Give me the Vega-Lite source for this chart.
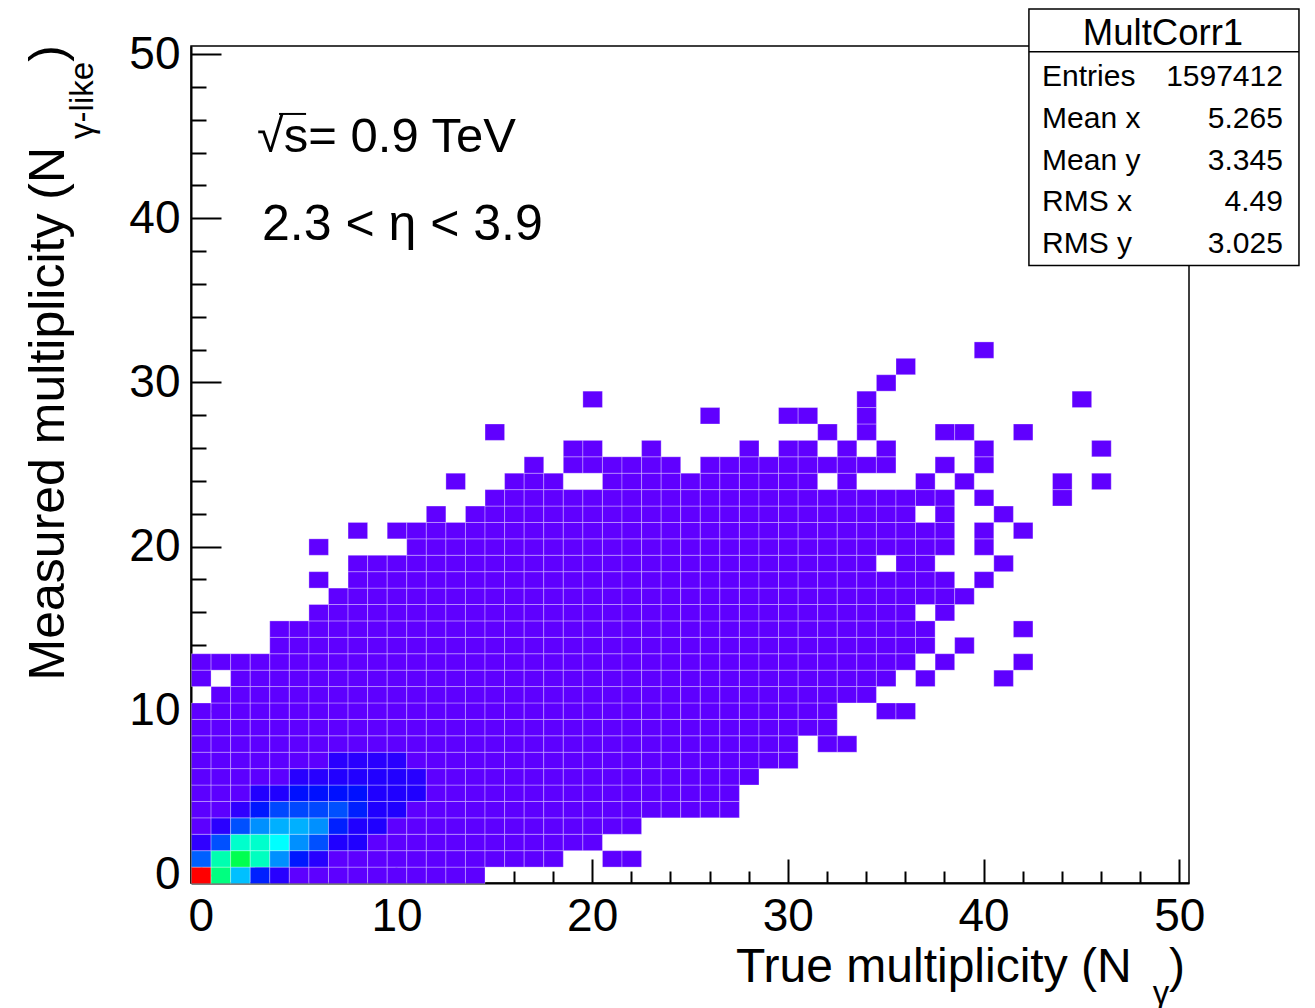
{
  "$schema": "https://vega.github.io/schema/vega-lite/v6.json",
  "width": 998,
  "height": 837,
  "autosize": {"type": "none"},
  "padding": {"left": 191, "top": 46, "right": 126, "bottom": 125},
  "background": "white",
  "config": {
    "font": "Liberation Sans",
    "view": {"stroke": "black", "strokeWidth": 1.5},
    "axis": {"grid": false, "domainColor": "black", "domainWidth": 2, "tickColor": "black", "tickWidth": 2, "labelFont": "Liberation Sans", "labelFontSize": 46, "labelColor": "black", "zindex": 1},
    "text": {"font": "Liberation Sans", "color": "black"}
  },
  "resolve": {"axis": {"x": "independent", "y": "independent"}},
  "layer": [
    {
      "data": {"values": [
{"x":0,"y":0,"n":100000},{"x":1,"y":0,"n":49960},{"x":2,"y":0,"n":35060},{"x":3,"y":0,"n":22510},{"x":4,"y":0,"n":11667},{"x":5,"y":0,"n":700},{"x":6,"y":0,"n":700},{"x":7,"y":0,"n":700},{"x":8,"y":0,"n":700},{"x":9,"y":0,"n":700},{"x":10,"y":0,"n":700},{"x":11,"y":0,"n":700},{"x":12,"y":0,"n":700},{"x":13,"y":0,"n":700},{"x":14,"y":0,"n":700},
{"x":0,"y":1,"n":27530},{"x":1,"y":1,"n":46200},{"x":2,"y":1,"n":53725},{"x":3,"y":1,"n":45000},{"x":4,"y":1,"n":31290},{"x":5,"y":1,"n":21880},{"x":6,"y":1,"n":11667},{"x":7,"y":1,"n":700},{"x":8,"y":1,"n":700},{"x":9,"y":1,"n":700},{"x":10,"y":1,"n":700},{"x":11,"y":1,"n":700},{"x":12,"y":1,"n":700},{"x":13,"y":1,"n":700},{"x":14,"y":1,"n":700},{"x":15,"y":1,"n":700},{"x":16,"y":1,"n":700},{"x":17,"y":1,"n":700},{"x":18,"y":1,"n":700},{"x":21,"y":1,"n":700},{"x":22,"y":1,"n":700},
{"x":0,"y":2,"n":10000},{"x":1,"y":2,"n":26270},{"x":2,"y":2,"n":44000},{"x":3,"y":2,"n":44000},{"x":4,"y":2,"n":40000},{"x":5,"y":2,"n":31290},{"x":6,"y":2,"n":26270},{"x":7,"y":2,"n":13333},{"x":8,"y":2,"n":13333},{"x":9,"y":2,"n":700},{"x":10,"y":2,"n":700},{"x":11,"y":2,"n":700},{"x":12,"y":2,"n":700},{"x":13,"y":2,"n":700},{"x":14,"y":2,"n":700},{"x":15,"y":2,"n":700},{"x":16,"y":2,"n":700},{"x":17,"y":2,"n":700},{"x":18,"y":2,"n":700},{"x":19,"y":2,"n":700},{"x":20,"y":2,"n":700},
{"x":0,"y":3,"n":800},{"x":1,"y":3,"n":11250},{"x":2,"y":3,"n":26270},{"x":3,"y":3,"n":31290},{"x":4,"y":3,"n":33800},{"x":5,"y":3,"n":33800},{"x":6,"y":3,"n":31290},{"x":7,"y":3,"n":22510},{"x":8,"y":3,"n":13333},{"x":9,"y":3,"n":13333},{"x":10,"y":3,"n":700},{"x":11,"y":3,"n":700},{"x":12,"y":3,"n":700},{"x":13,"y":3,"n":700},{"x":14,"y":3,"n":700},{"x":15,"y":3,"n":700},{"x":16,"y":3,"n":700},{"x":17,"y":3,"n":700},{"x":18,"y":3,"n":700},{"x":19,"y":3,"n":700},{"x":20,"y":3,"n":700},{"x":21,"y":3,"n":700},{"x":22,"y":3,"n":700},
{"x":0,"y":4,"n":800},{"x":1,"y":4,"n":800},{"x":2,"y":4,"n":10000},{"x":3,"y":4,"n":21880},{"x":4,"y":4,"n":25650},{"x":5,"y":4,"n":25650},{"x":6,"y":4,"n":25650},{"x":7,"y":4,"n":26270},{"x":8,"y":4,"n":22510},{"x":9,"y":4,"n":13333},{"x":10,"y":4,"n":13333},{"x":11,"y":4,"n":700},{"x":12,"y":4,"n":700},{"x":13,"y":4,"n":700},{"x":14,"y":4,"n":700},{"x":15,"y":4,"n":700},{"x":16,"y":4,"n":700},{"x":17,"y":4,"n":700},{"x":18,"y":4,"n":700},{"x":19,"y":4,"n":700},{"x":20,"y":4,"n":700},{"x":21,"y":4,"n":700},{"x":22,"y":4,"n":700},{"x":23,"y":4,"n":700},{"x":24,"y":4,"n":700},{"x":25,"y":4,"n":700},{"x":26,"y":4,"n":700},{"x":27,"y":4,"n":700},
{"x":0,"y":5,"n":800},{"x":1,"y":5,"n":800},{"x":2,"y":5,"n":800},{"x":3,"y":5,"n":12917},{"x":4,"y":5,"n":13333},{"x":5,"y":5,"n":21255},{"x":6,"y":5,"n":21255},{"x":7,"y":5,"n":21255},{"x":8,"y":5,"n":21255},{"x":9,"y":5,"n":13333},{"x":10,"y":5,"n":13333},{"x":11,"y":5,"n":13333},{"x":12,"y":5,"n":700},{"x":13,"y":5,"n":700},{"x":14,"y":5,"n":700},{"x":15,"y":5,"n":700},{"x":16,"y":5,"n":700},{"x":17,"y":5,"n":700},{"x":18,"y":5,"n":700},{"x":19,"y":5,"n":700},{"x":20,"y":5,"n":700},{"x":21,"y":5,"n":700},{"x":22,"y":5,"n":700},{"x":23,"y":5,"n":700},{"x":24,"y":5,"n":700},{"x":25,"y":5,"n":700},{"x":26,"y":5,"n":700},{"x":27,"y":5,"n":700},
{"x":0,"y":6,"n":800},{"x":1,"y":6,"n":800},{"x":2,"y":6,"n":800},{"x":3,"y":6,"n":800},{"x":4,"y":6,"n":800},{"x":5,"y":6,"n":11667},{"x":6,"y":6,"n":11667},{"x":7,"y":6,"n":12917},{"x":8,"y":6,"n":12917},{"x":9,"y":6,"n":12917},{"x":10,"y":6,"n":12917},{"x":11,"y":6,"n":11667},{"x":12,"y":6,"n":700},{"x":13,"y":6,"n":700},{"x":14,"y":6,"n":700},{"x":15,"y":6,"n":700},{"x":16,"y":6,"n":700},{"x":17,"y":6,"n":700},{"x":18,"y":6,"n":700},{"x":19,"y":6,"n":700},{"x":20,"y":6,"n":700},{"x":21,"y":6,"n":700},{"x":22,"y":6,"n":700},{"x":23,"y":6,"n":700},{"x":24,"y":6,"n":700},{"x":25,"y":6,"n":700},{"x":26,"y":6,"n":700},{"x":27,"y":6,"n":700},{"x":28,"y":6,"n":700},
{"x":0,"y":7,"n":800},{"x":1,"y":7,"n":800},{"x":2,"y":7,"n":800},{"x":3,"y":7,"n":800},{"x":4,"y":7,"n":800},{"x":5,"y":7,"n":800},{"x":6,"y":7,"n":800},{"x":7,"y":7,"n":11250},{"x":8,"y":7,"n":11250},{"x":9,"y":7,"n":11250},{"x":10,"y":7,"n":11250},{"x":11,"y":7,"n":600},{"x":12,"y":7,"n":600},{"x":13,"y":7,"n":600},{"x":14,"y":7,"n":600},{"x":15,"y":7,"n":600},{"x":16,"y":7,"n":600},{"x":17,"y":7,"n":600},{"x":18,"y":7,"n":600},{"x":19,"y":7,"n":600},{"x":20,"y":7,"n":600},{"x":21,"y":7,"n":600},{"x":22,"y":7,"n":600},{"x":23,"y":7,"n":600},{"x":24,"y":7,"n":600},{"x":25,"y":7,"n":600},{"x":26,"y":7,"n":600},{"x":27,"y":7,"n":600},{"x":28,"y":7,"n":600},{"x":29,"y":7,"n":600},{"x":30,"y":7,"n":600},
{"x":0,"y":8,"n":600},{"x":1,"y":8,"n":600},{"x":2,"y":8,"n":600},{"x":3,"y":8,"n":600},{"x":4,"y":8,"n":600},{"x":5,"y":8,"n":600},{"x":6,"y":8,"n":600},{"x":7,"y":8,"n":600},{"x":8,"y":8,"n":600},{"x":9,"y":8,"n":600},{"x":10,"y":8,"n":600},{"x":11,"y":8,"n":600},{"x":12,"y":8,"n":600},{"x":13,"y":8,"n":600},{"x":14,"y":8,"n":600},{"x":15,"y":8,"n":600},{"x":16,"y":8,"n":600},{"x":17,"y":8,"n":600},{"x":18,"y":8,"n":600},{"x":19,"y":8,"n":600},{"x":20,"y":8,"n":600},{"x":21,"y":8,"n":600},{"x":22,"y":8,"n":600},{"x":23,"y":8,"n":600},{"x":24,"y":8,"n":600},{"x":25,"y":8,"n":600},{"x":26,"y":8,"n":600},{"x":27,"y":8,"n":600},{"x":28,"y":8,"n":600},{"x":29,"y":8,"n":600},{"x":30,"y":8,"n":600},{"x":32,"y":8,"n":600},{"x":33,"y":8,"n":600},
{"x":0,"y":9,"n":500},{"x":1,"y":9,"n":500},{"x":2,"y":9,"n":500},{"x":3,"y":9,"n":500},{"x":4,"y":9,"n":500},{"x":5,"y":9,"n":500},{"x":6,"y":9,"n":500},{"x":7,"y":9,"n":500},{"x":8,"y":9,"n":500},{"x":9,"y":9,"n":500},{"x":10,"y":9,"n":500},{"x":11,"y":9,"n":500},{"x":12,"y":9,"n":500},{"x":13,"y":9,"n":500},{"x":14,"y":9,"n":500},{"x":15,"y":9,"n":500},{"x":16,"y":9,"n":500},{"x":17,"y":9,"n":500},{"x":18,"y":9,"n":500},{"x":19,"y":9,"n":500},{"x":20,"y":9,"n":500},{"x":21,"y":9,"n":500},{"x":22,"y":9,"n":500},{"x":23,"y":9,"n":500},{"x":24,"y":9,"n":500},{"x":25,"y":9,"n":500},{"x":26,"y":9,"n":500},{"x":27,"y":9,"n":500},{"x":28,"y":9,"n":500},{"x":29,"y":9,"n":500},{"x":30,"y":9,"n":500},{"x":31,"y":9,"n":500},{"x":32,"y":9,"n":500},
{"x":0,"y":10,"n":450},{"x":1,"y":10,"n":450},{"x":2,"y":10,"n":450},{"x":3,"y":10,"n":450},{"x":4,"y":10,"n":450},{"x":5,"y":10,"n":450},{"x":6,"y":10,"n":450},{"x":7,"y":10,"n":450},{"x":8,"y":10,"n":450},{"x":9,"y":10,"n":450},{"x":10,"y":10,"n":450},{"x":11,"y":10,"n":450},{"x":12,"y":10,"n":450},{"x":13,"y":10,"n":450},{"x":14,"y":10,"n":450},{"x":15,"y":10,"n":450},{"x":16,"y":10,"n":450},{"x":17,"y":10,"n":450},{"x":18,"y":10,"n":450},{"x":19,"y":10,"n":450},{"x":20,"y":10,"n":450},{"x":21,"y":10,"n":450},{"x":22,"y":10,"n":450},{"x":23,"y":10,"n":450},{"x":24,"y":10,"n":450},{"x":25,"y":10,"n":450},{"x":26,"y":10,"n":450},{"x":27,"y":10,"n":450},{"x":28,"y":10,"n":450},{"x":29,"y":10,"n":450},{"x":30,"y":10,"n":450},{"x":31,"y":10,"n":450},{"x":32,"y":10,"n":450},{"x":35,"y":10,"n":450},{"x":36,"y":10,"n":450},
{"x":1,"y":11,"n":400},{"x":2,"y":11,"n":400},{"x":3,"y":11,"n":400},{"x":4,"y":11,"n":400},{"x":5,"y":11,"n":400},{"x":6,"y":11,"n":400},{"x":7,"y":11,"n":400},{"x":8,"y":11,"n":400},{"x":9,"y":11,"n":400},{"x":10,"y":11,"n":400},{"x":11,"y":11,"n":400},{"x":12,"y":11,"n":400},{"x":13,"y":11,"n":400},{"x":14,"y":11,"n":400},{"x":15,"y":11,"n":400},{"x":16,"y":11,"n":400},{"x":17,"y":11,"n":400},{"x":18,"y":11,"n":400},{"x":19,"y":11,"n":400},{"x":20,"y":11,"n":400},{"x":21,"y":11,"n":400},{"x":22,"y":11,"n":400},{"x":23,"y":11,"n":400},{"x":24,"y":11,"n":400},{"x":25,"y":11,"n":400},{"x":26,"y":11,"n":400},{"x":27,"y":11,"n":400},{"x":28,"y":11,"n":400},{"x":29,"y":11,"n":400},{"x":30,"y":11,"n":400},{"x":31,"y":11,"n":400},{"x":32,"y":11,"n":400},{"x":33,"y":11,"n":400},{"x":34,"y":11,"n":400},
{"x":0,"y":12,"n":350},{"x":2,"y":12,"n":350},{"x":3,"y":12,"n":350},{"x":4,"y":12,"n":350},{"x":5,"y":12,"n":350},{"x":6,"y":12,"n":350},{"x":7,"y":12,"n":350},{"x":8,"y":12,"n":350},{"x":9,"y":12,"n":350},{"x":10,"y":12,"n":350},{"x":11,"y":12,"n":350},{"x":12,"y":12,"n":350},{"x":13,"y":12,"n":350},{"x":14,"y":12,"n":350},{"x":15,"y":12,"n":350},{"x":16,"y":12,"n":350},{"x":17,"y":12,"n":350},{"x":18,"y":12,"n":350},{"x":19,"y":12,"n":350},{"x":20,"y":12,"n":350},{"x":21,"y":12,"n":350},{"x":22,"y":12,"n":350},{"x":23,"y":12,"n":350},{"x":24,"y":12,"n":350},{"x":25,"y":12,"n":350},{"x":26,"y":12,"n":350},{"x":27,"y":12,"n":350},{"x":28,"y":12,"n":350},{"x":29,"y":12,"n":350},{"x":30,"y":12,"n":350},{"x":31,"y":12,"n":350},{"x":32,"y":12,"n":350},{"x":33,"y":12,"n":350},{"x":34,"y":12,"n":350},{"x":35,"y":12,"n":350},{"x":37,"y":12,"n":350},{"x":41,"y":12,"n":350},
{"x":0,"y":13,"n":300},{"x":1,"y":13,"n":300},{"x":2,"y":13,"n":300},{"x":3,"y":13,"n":300},{"x":4,"y":13,"n":300},{"x":5,"y":13,"n":300},{"x":6,"y":13,"n":300},{"x":7,"y":13,"n":300},{"x":8,"y":13,"n":300},{"x":9,"y":13,"n":300},{"x":10,"y":13,"n":300},{"x":11,"y":13,"n":300},{"x":12,"y":13,"n":300},{"x":13,"y":13,"n":300},{"x":14,"y":13,"n":300},{"x":15,"y":13,"n":300},{"x":16,"y":13,"n":300},{"x":17,"y":13,"n":300},{"x":18,"y":13,"n":300},{"x":19,"y":13,"n":300},{"x":20,"y":13,"n":300},{"x":21,"y":13,"n":300},{"x":22,"y":13,"n":300},{"x":23,"y":13,"n":300},{"x":24,"y":13,"n":300},{"x":25,"y":13,"n":300},{"x":26,"y":13,"n":300},{"x":27,"y":13,"n":300},{"x":28,"y":13,"n":300},{"x":29,"y":13,"n":300},{"x":30,"y":13,"n":300},{"x":31,"y":13,"n":300},{"x":32,"y":13,"n":300},{"x":33,"y":13,"n":300},{"x":34,"y":13,"n":300},{"x":35,"y":13,"n":300},{"x":36,"y":13,"n":300},{"x":38,"y":13,"n":300},{"x":42,"y":13,"n":300},
{"x":4,"y":14,"n":260},{"x":5,"y":14,"n":260},{"x":6,"y":14,"n":260},{"x":7,"y":14,"n":260},{"x":8,"y":14,"n":260},{"x":9,"y":14,"n":260},{"x":10,"y":14,"n":260},{"x":11,"y":14,"n":260},{"x":12,"y":14,"n":260},{"x":13,"y":14,"n":260},{"x":14,"y":14,"n":260},{"x":15,"y":14,"n":260},{"x":16,"y":14,"n":260},{"x":17,"y":14,"n":260},{"x":18,"y":14,"n":260},{"x":19,"y":14,"n":260},{"x":20,"y":14,"n":260},{"x":21,"y":14,"n":260},{"x":22,"y":14,"n":260},{"x":23,"y":14,"n":260},{"x":24,"y":14,"n":260},{"x":25,"y":14,"n":260},{"x":26,"y":14,"n":260},{"x":27,"y":14,"n":260},{"x":28,"y":14,"n":260},{"x":29,"y":14,"n":260},{"x":30,"y":14,"n":260},{"x":31,"y":14,"n":260},{"x":32,"y":14,"n":260},{"x":33,"y":14,"n":260},{"x":34,"y":14,"n":260},{"x":35,"y":14,"n":260},{"x":36,"y":14,"n":260},{"x":37,"y":14,"n":260},{"x":39,"y":14,"n":260},
{"x":4,"y":15,"n":220},{"x":5,"y":15,"n":220},{"x":6,"y":15,"n":220},{"x":7,"y":15,"n":220},{"x":8,"y":15,"n":220},{"x":9,"y":15,"n":220},{"x":10,"y":15,"n":220},{"x":11,"y":15,"n":220},{"x":12,"y":15,"n":220},{"x":13,"y":15,"n":220},{"x":14,"y":15,"n":220},{"x":15,"y":15,"n":220},{"x":16,"y":15,"n":220},{"x":17,"y":15,"n":220},{"x":18,"y":15,"n":220},{"x":19,"y":15,"n":220},{"x":20,"y":15,"n":220},{"x":21,"y":15,"n":220},{"x":22,"y":15,"n":220},{"x":23,"y":15,"n":220},{"x":24,"y":15,"n":220},{"x":25,"y":15,"n":220},{"x":26,"y":15,"n":220},{"x":27,"y":15,"n":220},{"x":28,"y":15,"n":220},{"x":29,"y":15,"n":220},{"x":30,"y":15,"n":220},{"x":31,"y":15,"n":220},{"x":32,"y":15,"n":220},{"x":33,"y":15,"n":220},{"x":34,"y":15,"n":220},{"x":35,"y":15,"n":220},{"x":36,"y":15,"n":220},{"x":37,"y":15,"n":220},{"x":42,"y":15,"n":220},
{"x":6,"y":16,"n":190},{"x":7,"y":16,"n":190},{"x":8,"y":16,"n":190},{"x":9,"y":16,"n":190},{"x":10,"y":16,"n":190},{"x":11,"y":16,"n":190},{"x":12,"y":16,"n":190},{"x":13,"y":16,"n":190},{"x":14,"y":16,"n":190},{"x":15,"y":16,"n":190},{"x":16,"y":16,"n":190},{"x":17,"y":16,"n":190},{"x":18,"y":16,"n":190},{"x":19,"y":16,"n":190},{"x":20,"y":16,"n":190},{"x":21,"y":16,"n":190},{"x":22,"y":16,"n":190},{"x":23,"y":16,"n":190},{"x":24,"y":16,"n":190},{"x":25,"y":16,"n":190},{"x":26,"y":16,"n":190},{"x":27,"y":16,"n":190},{"x":28,"y":16,"n":190},{"x":29,"y":16,"n":190},{"x":30,"y":16,"n":190},{"x":31,"y":16,"n":190},{"x":32,"y":16,"n":190},{"x":33,"y":16,"n":190},{"x":34,"y":16,"n":190},{"x":35,"y":16,"n":190},{"x":36,"y":16,"n":190},{"x":38,"y":16,"n":190},
{"x":7,"y":17,"n":160},{"x":8,"y":17,"n":160},{"x":9,"y":17,"n":160},{"x":10,"y":17,"n":160},{"x":11,"y":17,"n":160},{"x":12,"y":17,"n":160},{"x":13,"y":17,"n":160},{"x":14,"y":17,"n":160},{"x":15,"y":17,"n":160},{"x":16,"y":17,"n":160},{"x":17,"y":17,"n":160},{"x":18,"y":17,"n":160},{"x":19,"y":17,"n":160},{"x":20,"y":17,"n":160},{"x":21,"y":17,"n":160},{"x":22,"y":17,"n":160},{"x":23,"y":17,"n":160},{"x":24,"y":17,"n":160},{"x":25,"y":17,"n":160},{"x":26,"y":17,"n":160},{"x":27,"y":17,"n":160},{"x":28,"y":17,"n":160},{"x":29,"y":17,"n":160},{"x":30,"y":17,"n":160},{"x":31,"y":17,"n":160},{"x":32,"y":17,"n":160},{"x":33,"y":17,"n":160},{"x":34,"y":17,"n":160},{"x":35,"y":17,"n":160},{"x":36,"y":17,"n":160},{"x":37,"y":17,"n":160},{"x":38,"y":17,"n":160},{"x":39,"y":17,"n":160},
{"x":6,"y":18,"n":130},{"x":8,"y":18,"n":130},{"x":9,"y":18,"n":130},{"x":10,"y":18,"n":130},{"x":11,"y":18,"n":130},{"x":12,"y":18,"n":130},{"x":13,"y":18,"n":130},{"x":14,"y":18,"n":130},{"x":15,"y":18,"n":130},{"x":16,"y":18,"n":130},{"x":17,"y":18,"n":130},{"x":18,"y":18,"n":130},{"x":19,"y":18,"n":130},{"x":20,"y":18,"n":130},{"x":21,"y":18,"n":130},{"x":22,"y":18,"n":130},{"x":23,"y":18,"n":130},{"x":24,"y":18,"n":130},{"x":25,"y":18,"n":130},{"x":26,"y":18,"n":130},{"x":27,"y":18,"n":130},{"x":28,"y":18,"n":130},{"x":29,"y":18,"n":130},{"x":30,"y":18,"n":130},{"x":31,"y":18,"n":130},{"x":32,"y":18,"n":130},{"x":33,"y":18,"n":130},{"x":34,"y":18,"n":130},{"x":35,"y":18,"n":130},{"x":36,"y":18,"n":130},{"x":37,"y":18,"n":130},{"x":38,"y":18,"n":130},{"x":40,"y":18,"n":130},
{"x":8,"y":19,"n":110},{"x":9,"y":19,"n":110},{"x":10,"y":19,"n":110},{"x":11,"y":19,"n":110},{"x":12,"y":19,"n":110},{"x":13,"y":19,"n":110},{"x":14,"y":19,"n":110},{"x":15,"y":19,"n":110},{"x":16,"y":19,"n":110},{"x":17,"y":19,"n":110},{"x":18,"y":19,"n":110},{"x":19,"y":19,"n":110},{"x":20,"y":19,"n":110},{"x":21,"y":19,"n":110},{"x":22,"y":19,"n":110},{"x":23,"y":19,"n":110},{"x":24,"y":19,"n":110},{"x":25,"y":19,"n":110},{"x":26,"y":19,"n":110},{"x":27,"y":19,"n":110},{"x":28,"y":19,"n":110},{"x":29,"y":19,"n":110},{"x":30,"y":19,"n":110},{"x":31,"y":19,"n":110},{"x":32,"y":19,"n":110},{"x":33,"y":19,"n":110},{"x":34,"y":19,"n":110},{"x":36,"y":19,"n":110},{"x":37,"y":19,"n":110},{"x":41,"y":19,"n":110},
{"x":6,"y":20,"n":90},{"x":11,"y":20,"n":90},{"x":12,"y":20,"n":90},{"x":13,"y":20,"n":90},{"x":14,"y":20,"n":90},{"x":15,"y":20,"n":90},{"x":16,"y":20,"n":90},{"x":17,"y":20,"n":90},{"x":18,"y":20,"n":90},{"x":19,"y":20,"n":90},{"x":20,"y":20,"n":90},{"x":21,"y":20,"n":90},{"x":22,"y":20,"n":90},{"x":23,"y":20,"n":90},{"x":24,"y":20,"n":90},{"x":25,"y":20,"n":90},{"x":26,"y":20,"n":90},{"x":27,"y":20,"n":90},{"x":28,"y":20,"n":90},{"x":29,"y":20,"n":90},{"x":30,"y":20,"n":90},{"x":31,"y":20,"n":90},{"x":32,"y":20,"n":90},{"x":33,"y":20,"n":90},{"x":34,"y":20,"n":90},{"x":35,"y":20,"n":90},{"x":36,"y":20,"n":90},{"x":37,"y":20,"n":90},{"x":38,"y":20,"n":90},{"x":40,"y":20,"n":90},
{"x":8,"y":21,"n":70},{"x":10,"y":21,"n":70},{"x":11,"y":21,"n":70},{"x":12,"y":21,"n":70},{"x":13,"y":21,"n":70},{"x":14,"y":21,"n":70},{"x":15,"y":21,"n":70},{"x":16,"y":21,"n":70},{"x":17,"y":21,"n":70},{"x":18,"y":21,"n":70},{"x":19,"y":21,"n":70},{"x":20,"y":21,"n":70},{"x":21,"y":21,"n":70},{"x":22,"y":21,"n":70},{"x":23,"y":21,"n":70},{"x":24,"y":21,"n":70},{"x":25,"y":21,"n":70},{"x":26,"y":21,"n":70},{"x":27,"y":21,"n":70},{"x":28,"y":21,"n":70},{"x":29,"y":21,"n":70},{"x":30,"y":21,"n":70},{"x":31,"y":21,"n":70},{"x":32,"y":21,"n":70},{"x":33,"y":21,"n":70},{"x":34,"y":21,"n":70},{"x":35,"y":21,"n":70},{"x":36,"y":21,"n":70},{"x":37,"y":21,"n":70},{"x":38,"y":21,"n":70},{"x":40,"y":21,"n":70},{"x":42,"y":21,"n":70},
{"x":12,"y":22,"n":55},{"x":14,"y":22,"n":55},{"x":15,"y":22,"n":55},{"x":16,"y":22,"n":55},{"x":17,"y":22,"n":55},{"x":18,"y":22,"n":55},{"x":19,"y":22,"n":55},{"x":20,"y":22,"n":55},{"x":21,"y":22,"n":55},{"x":22,"y":22,"n":55},{"x":23,"y":22,"n":55},{"x":24,"y":22,"n":55},{"x":25,"y":22,"n":55},{"x":26,"y":22,"n":55},{"x":27,"y":22,"n":55},{"x":28,"y":22,"n":55},{"x":29,"y":22,"n":55},{"x":30,"y":22,"n":55},{"x":31,"y":22,"n":55},{"x":32,"y":22,"n":55},{"x":33,"y":22,"n":55},{"x":34,"y":22,"n":55},{"x":35,"y":22,"n":55},{"x":36,"y":22,"n":55},{"x":38,"y":22,"n":55},{"x":41,"y":22,"n":55},
{"x":15,"y":23,"n":40},{"x":16,"y":23,"n":40},{"x":17,"y":23,"n":40},{"x":18,"y":23,"n":40},{"x":19,"y":23,"n":40},{"x":20,"y":23,"n":40},{"x":21,"y":23,"n":40},{"x":22,"y":23,"n":40},{"x":23,"y":23,"n":40},{"x":24,"y":23,"n":40},{"x":25,"y":23,"n":40},{"x":26,"y":23,"n":40},{"x":27,"y":23,"n":40},{"x":28,"y":23,"n":40},{"x":29,"y":23,"n":40},{"x":30,"y":23,"n":40},{"x":31,"y":23,"n":40},{"x":32,"y":23,"n":40},{"x":33,"y":23,"n":40},{"x":34,"y":23,"n":40},{"x":35,"y":23,"n":40},{"x":36,"y":23,"n":40},{"x":37,"y":23,"n":40},{"x":38,"y":23,"n":40},{"x":40,"y":23,"n":40},{"x":44,"y":23,"n":40},
{"x":13,"y":24,"n":30},{"x":16,"y":24,"n":30},{"x":17,"y":24,"n":30},{"x":18,"y":24,"n":30},{"x":21,"y":24,"n":30},{"x":22,"y":24,"n":30},{"x":23,"y":24,"n":30},{"x":24,"y":24,"n":30},{"x":25,"y":24,"n":30},{"x":26,"y":24,"n":30},{"x":27,"y":24,"n":30},{"x":28,"y":24,"n":30},{"x":29,"y":24,"n":30},{"x":30,"y":24,"n":30},{"x":31,"y":24,"n":30},{"x":33,"y":24,"n":30},{"x":37,"y":24,"n":30},{"x":39,"y":24,"n":30},{"x":44,"y":24,"n":30},{"x":46,"y":24,"n":30},
{"x":17,"y":25,"n":20},{"x":19,"y":25,"n":20},{"x":20,"y":25,"n":20},{"x":21,"y":25,"n":20},{"x":22,"y":25,"n":20},{"x":23,"y":25,"n":20},{"x":24,"y":25,"n":20},{"x":26,"y":25,"n":20},{"x":27,"y":25,"n":20},{"x":28,"y":25,"n":20},{"x":29,"y":25,"n":20},{"x":30,"y":25,"n":20},{"x":31,"y":25,"n":20},{"x":32,"y":25,"n":20},{"x":33,"y":25,"n":20},{"x":34,"y":25,"n":20},{"x":35,"y":25,"n":20},{"x":38,"y":25,"n":20},{"x":40,"y":25,"n":20},
{"x":19,"y":26,"n":12},{"x":20,"y":26,"n":12},{"x":23,"y":26,"n":12},{"x":28,"y":26,"n":12},{"x":30,"y":26,"n":12},{"x":31,"y":26,"n":12},{"x":33,"y":26,"n":12},{"x":35,"y":26,"n":12},{"x":40,"y":26,"n":12},{"x":46,"y":26,"n":12},
{"x":15,"y":27,"n":8},{"x":32,"y":27,"n":8},{"x":34,"y":27,"n":8},{"x":38,"y":27,"n":8},{"x":39,"y":27,"n":8},{"x":42,"y":27,"n":8},
{"x":26,"y":28,"n":5},{"x":30,"y":28,"n":5},{"x":31,"y":28,"n":5},{"x":34,"y":28,"n":5},
{"x":20,"y":29,"n":4},{"x":34,"y":29,"n":4},{"x":45,"y":29,"n":4},
{"x":35,"y":30,"n":3},{"x":36,"y":31,"n":2},{"x":40,"y":32,"n":1}
      ]},
      "mark": {"type": "rect", "stroke": "white", "strokeOpacity": 0.3, "strokeWidth": 1},
      "encoding": {
        "x": {"field": "x", "type": "quantitative", "bin": {"step": 1, "extent": [-0.5, 50.5], "nice": false}, "title": null,
              "scale": {"domain": [-0.5, 50.5], "nice": false, "zero": false},
              "axis": {"orient": "bottom", "values": [0, 10, 20, 30, 40, 50], "format": "d", "tickSize": -24, "labelPadding": 35, "labelFlush": false, "labelOverlap": false}},
        "y": {"field": "y", "type": "quantitative", "bin": {"step": 1, "extent": [-0.5, 50.5], "nice": false}, "title": null,
              "scale": {"domain": [-0.5, 50.5], "nice": false, "zero": false},
              "axis": {"orient": "left", "values": [0, 10, 20, 30, 40, 50], "format": "d", "tickSize": -30, "labelPadding": 41, "labelFlush": false, "labelOverlap": false}},
        "color": {"field": "n", "type": "quantitative", "legend": null, "title": "entries",
                  "scale": {"domain": [0, 20000, 40000, 60000, 80000, 100000], "range": ["#6000ff", "#0000ff", "#00ffff", "#00ff00", "#ffff00", "#ff0000"], "interpolate": "rgb"}}
      }
    },
    {
      "data": {"values": [{"label": "2.3 < η < 3.9"}]},
      "mark": {"type": "text", "fontSize": 50, "align": "left", "baseline": "alphabetic"},
      "encoding": {
        "x": {"datum": 3.13, "type": "quantitative",
              "axis": {"orient": "bottom", "values": [2,4,6,8,12,14,16,18,22,24,26,28,32,34,36,38,42,44,46,48], "tickSize": -12, "labels": false, "domain": false, "title": null}},
        "y": {"datum": 38.68, "type": "quantitative",
              "axis": {"orient": "left", "values": [2,4,6,8,12,14,16,18,22,24,26,28,32,34,36,38,42,44,46,48], "tickSize": -15, "labels": false, "domain": false, "title": null}},
        "text": {"field": "label"}
      }
    },
    {
      "data": {"values": [{"label": "√s= 0.9 TeV"}]},
      "mark": {"type": "text", "fontSize": 49, "align": "left", "baseline": "alphabetic"},
      "encoding": {
        "x": {"datum": 2.87, "type": "quantitative", "axis": null},
        "y": {"datum": 44.04, "type": "quantitative", "axis": null},
        "text": {"field": "label"}
      }
    },
    {
      "data": {"values": [{}]},
      "mark": {"type": "rule", "stroke": "black", "strokeWidth": 2},
      "encoding": {
        "x": {"datum": 4.0, "type": "quantitative", "axis": null},
        "x2": {"datum": 5.38},
        "y": {"datum": 46.36, "type": "quantitative", "axis": null}
      }
    },
    {
      "data": {"values": [{}]},
      "mark": {"type": "rect", "fill": "white", "stroke": "black", "strokeWidth": 1.5, "clip": false},
      "encoding": {
        "x": {"datum": 42.32, "type": "quantitative", "axis": null},
        "x2": {"datum": 56.12},
        "y": {"datum": 52.75, "type": "quantitative", "axis": null},
        "y2": {"datum": 37.12}
      }
    },
    {
      "data": {"values": [{}]},
      "mark": {"type": "rule", "stroke": "black", "strokeWidth": 1.5},
      "encoding": {
        "x": {"datum": 42.32, "type": "quantitative", "axis": null},
        "x2": {"datum": 56.12},
        "y": {"datum": 50.15, "type": "quantitative", "axis": null}
      }
    },
    {
      "data": {"values": [{"label": "MultCorr1"}]},
      "mark": {"type": "text", "fontSize": 36.5, "align": "center", "baseline": "alphabetic"},
      "encoding": {
        "x": {"datum": 49.17, "type": "quantitative", "axis": null},
        "y": {"datum": 50.56, "type": "quantitative", "axis": null},
        "text": {"field": "label"}
      }
    },
    {
      "data": {"values": [{}]},
      "mark": {"type": "text", "fontSize": 30, "align": "left", "baseline": "alphabetic", "lineHeight": 41.8,
               "text": ["Entries", "Mean x", "Mean y", "RMS x", "RMS y"]},
      "encoding": {
        "x": {"datum": 42.99, "type": "quantitative", "axis": null},
        "y": {"datum": 48.06, "type": "quantitative", "axis": null}
      }
    },
    {
      "data": {"values": [{}]},
      "mark": {"type": "text", "fontSize": 30, "align": "right", "baseline": "alphabetic", "lineHeight": 41.8,
               "text": ["1597412", "5.265", "3.345", "4.49", "3.025"]},
      "encoding": {
        "x": {"datum": 55.3, "type": "quantitative", "axis": null},
        "y": {"datum": 48.06, "type": "quantitative", "axis": null}
      }
    },
    {
      "data": {"values": [{"label": "True multiplicity (N"}]},
      "mark": {"type": "text", "fontSize": 48, "align": "right", "baseline": "alphabetic"},
      "encoding": {
        "x": {"datum": 47.57, "type": "quantitative", "axis": null},
        "y": {"datum": -6.53, "type": "quantitative", "axis": null},
        "text": {"field": "label"}
      }
    },
    {
      "data": {"values": [{"label": "γ"}]},
      "mark": {"type": "text", "fontSize": 33, "align": "center", "baseline": "alphabetic"},
      "encoding": {
        "x": {"datum": 49.07, "type": "quantitative", "axis": null},
        "y": {"datum": -7.9, "type": "quantitative", "axis": null},
        "text": {"field": "label"}
      }
    },
    {
      "data": {"values": [{"label": ")"}]},
      "mark": {"type": "text", "fontSize": 48, "align": "right", "baseline": "alphabetic"},
      "encoding": {
        "x": {"datum": 50.29, "type": "quantitative", "axis": null},
        "y": {"datum": -6.53, "type": "quantitative", "axis": null},
        "text": {"field": "label"}
      }
    },
    {
      "data": {"values": [{"label": "Measured multiplicity (N"}]},
      "mark": {"type": "text", "fontSize": 50, "align": "right", "baseline": "alphabetic", "angle": 270},
      "encoding": {
        "x": {"datum": -6.99, "type": "quantitative", "axis": null},
        "y": {"datum": 44.35, "type": "quantitative", "axis": null},
        "text": {"field": "label"}
      }
    },
    {
      "data": {"values": [{"label": "γ-like"}]},
      "mark": {"type": "text", "fontSize": 33, "align": "right", "baseline": "alphabetic", "angle": 270},
      "encoding": {
        "x": {"datum": -5.51, "type": "quantitative", "axis": null},
        "y": {"datum": 49.53, "type": "quantitative", "axis": null},
        "text": {"field": "label"}
      }
    },
    {
      "data": {"values": [{"label": ")"}]},
      "mark": {"type": "text", "fontSize": 50, "align": "right", "baseline": "alphabetic", "angle": 270},
      "encoding": {
        "x": {"datum": -6.99, "type": "quantitative", "axis": null},
        "y": {"datum": 50.56, "type": "quantitative", "axis": null},
        "text": {"field": "label"}
      }
    }
  ]
}
